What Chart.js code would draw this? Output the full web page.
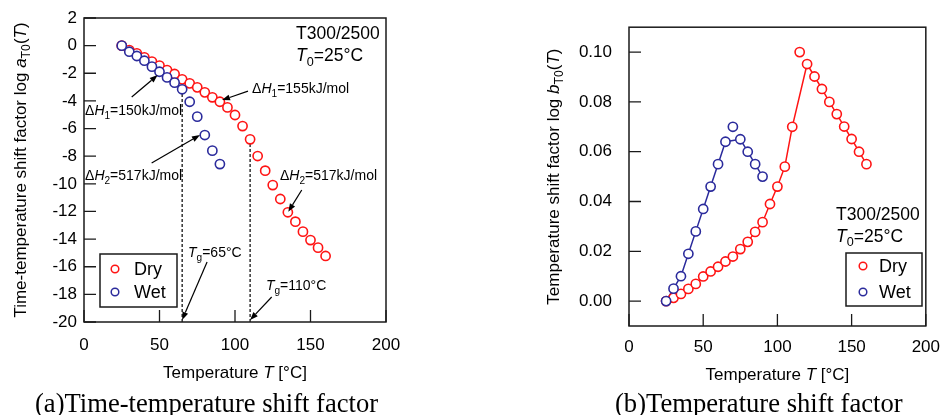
<!DOCTYPE html>
<html><head><meta charset="utf-8">
<script src="https://cdn.jsdelivr.net/npm/chart.js@4"></script>
<style>
body{margin:0;background:#fff;width:951px;height:415px;position:relative;overflow:hidden}
canvas{position:absolute;top:0}
#ca{left:0}
#cb{left:476px}
.cap{position:absolute;font-family:'Liberation Serif','Times New Roman',serif;font-size:26.6px;line-height:30px;color:#000;white-space:nowrap}
</style></head><body>
<canvas id="ca" width="470" height="390"></canvas>
<canvas id="cb" width="475" height="390"></canvas>
<div class="cap" style="left:35px;top:388px">(a)Time-temperature shift factor</div>
<div class="cap" style="left:615px;top:388px">(b)Temperature shift factor</div>
<script>
// ---------- data ----------
const temps = [25,30,35,40,45,50,55,60,65,70,75,80,85,90,95,100,105,110,115,120,125,130,135,140,145,150,155,160];
const dryLogA = [0,-0.32,-0.56,-0.85,-1.16,-1.45,-1.77,-2.05,-2.44,-2.73,-3.02,-3.38,-3.74,-4.06,-4.47,-5.02,-5.82,-6.78,-7.99,-9.05,-10.09,-11.1,-12.06,-12.74,-13.46,-14.07,-14.62,-15.22];
const wetTemps = [25,30,35,40,45,50,55,60,65,70,75,80,85,90];
const wetLogA = [0,-0.44,-0.75,-1.09,-1.52,-1.89,-2.3,-2.68,-3.16,-4.06,-5.14,-6.47,-7.6,-8.57];
const dryLogB = [0,0.0013,0.0029,0.0049,0.0069,0.0099,0.0119,0.0138,0.0159,0.0179,0.0209,0.0238,0.0278,0.0317,0.039,0.046,0.054,0.070,0.100,0.0952,0.0902,0.0852,0.080,0.0751,0.0701,0.0651,0.060,0.055];
const wetLogB = [0,0.005,0.010,0.019,0.028,0.037,0.046,0.055,0.064,0.070,0.065,0.060,0.055,0.050];
const tgDry = 110, tgWet = 65;
const xTicks = [0,50,100,150,200];
const yTicksA = [2,0,-2,-4,-6,-8,-10,-12,-14,-16,-18,-20];
const yTicksB = [0,0.02,0.04,0.06,0.08,0.10];

const RED = '#ff1414', BLUE = '#2b2b9c';
const FAM = "'Liberation Sans', Arial, sans-serif";
const PR = 4.6;

// ---------- helpers ----------
const pts = (xs, ys) => xs.map((x, i) => ({x, y: ys[i]}));
function rich(ctx, x, y, segs, size, align) {
  const f = s => `${s[1] && s[1].includes('i') ? 'italic ' : ''}${s[1] && (s[1].includes('sub') || s[1].includes('sup')) ? size * 0.72 : size}px ${FAM}`;
  let w = 0; const ws = [];
  segs.forEach(s => { ctx.font = f(s); const m = ctx.measureText(s[0]).width; ws.push(m); w += m; });
  let cx = align === 'right' ? x - w : align === 'center' ? x - w / 2 : x;
  ctx.textBaseline = 'alphabetic'; ctx.textAlign = 'left'; ctx.fillStyle = '#000';
  const base = y + size * 0.36;
  segs.forEach((s, k) => {
    ctx.font = f(s);
    const st = s[1] || '';
    const dy = st.includes('sub') ? size * 0.25 : st.includes('sup') ? -size * 0.42 : 0;
    ctx.fillText(s[0], cx, base + dy); cx += ws[k];
  });
}
function arrow(ctx, x1, y1, x2, y2) {
  ctx.save(); ctx.strokeStyle = '#000'; ctx.fillStyle = '#000'; ctx.lineWidth = 1.2;
  const a = Math.atan2(y2 - y1, x2 - x1), L = 8, W = 3;
  const bx = x2 - L * Math.cos(a), by = y2 - L * Math.sin(a);
  ctx.beginPath(); ctx.moveTo(x1, y1); ctx.lineTo(bx, by); ctx.stroke();
  ctx.beginPath(); ctx.moveTo(x2, y2);
  ctx.lineTo(bx + W * Math.sin(a), by - W * Math.cos(a));
  ctx.lineTo(bx - W * Math.sin(a), by + W * Math.cos(a));
  ctx.closePath(); ctx.fill(); ctx.restore();
}
function frameAndTicks(chart, tickLen) {
  const {ctx, chartArea: a, scales: {x, y}} = chart;
  ctx.save(); ctx.strokeStyle = '#1a1a1a'; ctx.lineWidth = 1.5;
  ctx.strokeRect(a.left, a.top, a.right - a.left, a.bottom - a.top);
  ctx.lineWidth = 1.3; ctx.beginPath();
  x.ticks.forEach(t => { const p = x.getPixelForValue(t.value); ctx.moveTo(p, a.bottom); ctx.lineTo(p, a.bottom - tickLen); });
  y.ticks.forEach(t => { const p = y.getPixelForValue(t.value); ctx.moveTo(a.left, p); ctx.lineTo(a.left + tickLen, p); });
  ctx.stroke(); ctx.restore();
}
function legendBox(ctx, x0, y0, w, h, items) {
  ctx.save(); ctx.strokeStyle = '#1a1a1a'; ctx.lineWidth = 1.5; ctx.strokeRect(x0, y0, w, h);
  items.forEach(it => {
    ctx.beginPath(); ctx.arc(it.mx, it.my, 3.8, 0, Math.PI * 2); ctx.strokeStyle = it.c; ctx.lineWidth = 1.5; ctx.stroke();
    ctx.fillStyle = '#000'; ctx.font = `18px ${FAM}`; ctx.textBaseline = 'middle'; ctx.textAlign = 'left';
    ctx.fillText(it.t, it.tx, it.my + 1);
  });
  ctx.restore();
}
const tickFont = {family: FAM, size: 17};
function xScale(pad, h) {
  return {type: 'linear', min: 0, max: 200,
    afterBuildTicks: s => { s.ticks = xTicks.map(v => ({value: v})); },
    afterFit: s => { s.height = h; },
    grid: {display: false, drawTicks: false}, border: {display: false},
    ticks: {font: tickFont, color: '#000', padding: pad, autoSkip: false, maxRotation: 0}};
}
const ptStyle = c => ({borderColor: c, backgroundColor: '#fff', pointBackgroundColor: '#fff', pointBorderColor: c,
  pointRadius: PR, pointBorderWidth: 1.6, pointHoverRadius: PR, showLine: false});

// ---------- chart (a) ----------
const plugA = {
  id: 'plugA',
  beforeDatasetsDraw(chart) {
    const {ctx, scales: {x, y}} = chart;
    ctx.save(); ctx.strokeStyle = '#000'; ctx.lineWidth = 1.2; ctx.setLineDash([3, 2]);
    [[tgWet, wetLogA[wetTemps.indexOf(tgWet)]], [tgDry, dryLogA[temps.indexOf(tgDry)]]].forEach(([t, v]) => {
      const px = x.getPixelForValue(t);
      ctx.beginPath(); ctx.moveTo(px, y.getPixelForValue(v) + PR); ctx.lineTo(px, y.getPixelForValue(-20)); ctx.stroke();
    });
    ctx.restore();
  },
  afterDraw(chart) {
    const {ctx, chartArea: a, scales: {x, y}} = chart;
    frameAndTicks(chart, 12);
    const X = v => x.getPixelForValue(v), Y = v => y.getPixelForValue(v);
    rich(ctx, X(140.4), Y(0.91), [['T300/2500']], 17.5, 'left');
    rich(ctx, X(140.4), Y(-0.68), [['T', 'i'], ['0', 'sub'], ['=25°C']], 17.5, 'left');
    const dH = (n, val) => [['Δ'], ['H', 'i'], [n, 'sub'], ['=' + val + 'kJ/mol']];
    rich(ctx, X(111.3), Y(-3.07), dH('1', '155'), 14, 'left');
    arrow(ctx, X(108.6), Y(-3.29), X(91.4), Y(-3.94));
    rich(ctx, X(0.7), Y(-4.67), dH('1', '150'), 14, 'left');
    arrow(ctx, X(31.6), Y(-3.72), X(48.8), Y(-2.13));
    rich(ctx, X(0.7), Y(-9.36), dH('2', '517'), 14, 'left');
    arrow(ctx, X(44.8), Y(-8.5), X(76.8), Y(-6.47));
    rich(ctx, X(129.8), Y(-9.36), dH('2', '517'), 14, 'left');
    arrow(ctx, X(144.2), Y(-10.45), X(135.3), Y(-12.02));
    rich(ctx, X(68.9), Y(-14.94), [['T', 'i'], ['g', 'sub'], ['=65°C']], 14, 'left');
    arrow(ctx, X(81.5), Y(-15.66), X(tgWet), Y(-19.85));
    rich(ctx, X(120.5), Y(-17.32), [['T', 'i'], ['g', 'sub'], ['=110°C']], 14, 'left');
    arrow(ctx, X(124.3), Y(-18.19), X(tgDry), Y(-19.85));
    legendBox(ctx, 100, 254, 77, 53, [
      {c: RED, mx: 115, my: 269, tx: 134, t: 'Dry'},
      {c: BLUE, mx: 115, my: 292, tx: 134, t: 'Wet'}]);
    rich(ctx, (a.left + a.right) / 2, 372, [['Temperature '], ['T', 'i'], [' [°C]']], 17, 'center');
    ctx.save(); ctx.translate(20, (a.top + a.bottom) / 2); ctx.rotate(-Math.PI / 2);
    rich(ctx, 0, 0, [['Time-temperature shift factor log '], ['a', 'i'], ['T0', 'sub'], ['('], ['T', 'i'], [')']], 17, 'center');
    ctx.restore();
  }
};
new Chart(document.getElementById('ca'), {
  type: 'scatter',
  data: {datasets: [
    {label: 'Wet', data: pts(wetTemps, wetLogA), ...ptStyle(BLUE)},
    {label: 'Dry', data: pts(temps, dryLogA), ...ptStyle(RED)}
  ]},
  options: {
    responsive: false, animation: false, devicePixelRatio: 1,
    layout: {padding: {top: 18, right: 84, left: 0, bottom: 0}},
    plugins: {legend: {display: false}, tooltip: {enabled: false}},
    scales: {
      x: xScale(13, 68),
      y: {type: 'linear', min: -20, max: 2,
        afterBuildTicks: s => { s.ticks = yTicksA.map(v => ({value: v})); },
        afterFit: s => { s.width = 84; },
        grid: {display: false, drawTicks: false}, border: {display: false},
        ticks: {font: tickFont, color: '#000', padding: 7, autoSkip: false}}
    }
  },
  plugins: [plugA]
});

// ---------- chart (b) ----------
const peakDry = dryLogB.indexOf(Math.max(...dryLogB));
const peakWet = wetLogB.indexOf(Math.max(...wetLogB));
const dryLineB = dryLogB.map((v, i) => i === peakDry ? null : v);
const wetLineB = wetLogB.map((v, i) => i === peakWet ? null : v);
const plugB = {
  id: 'plugB',
  afterDraw(chart) {
    const {ctx, chartArea: a, scales: {x, y}} = chart;
    frameAndTicks(chart, 12);
    const X = v => x.getPixelForValue(v), Y = v => y.getPixelForValue(v);
    rich(ctx, X(139.5), Y(0.0351), [['T300/2500']], 17.5, 'left');
    rich(ctx, X(139.5), Y(0.0263), [['T', 'i'], ['0', 'sub'], ['=25°C']], 17.5, 'left');
    legendBox(ctx, 846 - 476, 253, 76, 53, [
      {c: RED, mx: 863 - 476, my: 266, tx: 879 - 476, t: 'Dry'},
      {c: BLUE, mx: 863 - 476, my: 292, tx: 879 - 476, t: 'Wet'}]);
    rich(ctx, (a.left + a.right) / 2, 374, [['Temperature '], ['T', 'i'], [' [°C]']], 17, 'center');
    ctx.save(); ctx.translate(77, (a.top + a.bottom) / 2); ctx.rotate(-Math.PI / 2);
    rich(ctx, 0, 0, [['Temperature shift factor log '], ['b', 'i'], ['T0', 'sub'], ['('], ['T', 'i'], [')']], 17, 'center');
    ctx.restore();
  }
};
const lineStyle = c => ({borderColor: c, borderWidth: 1.5, pointRadius: 0, showLine: true, spanGaps: true, fill: false});
new Chart(document.getElementById('cb'), {
  type: 'scatter',
  data: {datasets: [
    {label: 'Wet', data: pts(wetTemps, wetLogB), ...ptStyle(BLUE)},
    {label: 'Dry', data: pts(temps, dryLogB), ...ptStyle(RED)},
    {label: 'Wet line', data: pts(wetTemps, wetLineB), ...lineStyle(BLUE)},
    {label: 'Dry line', data: pts(temps, dryLineB), ...lineStyle(RED)}
  ]},
  options: {
    responsive: false, animation: false, devicePixelRatio: 1,
    layout: {padding: {top: 22, right: 17, left: 0, bottom: 0}},
    plugins: {legend: {display: false}, tooltip: {enabled: false}},
    scales: {
      x: xScale(11, 64),
      y: {type: 'linear', min: -0.01, max: 0.11,
        afterBuildTicks: s => { s.ticks = yTicksB.map(v => ({value: v})); },
        afterFit: s => { s.width = 153; },
        grid: {display: false, drawTicks: false}, border: {display: false},
        ticks: {font: tickFont, color: '#000', padding: 17, autoSkip: false, callback: v => Number(v).toFixed(2)}}
    }
  },
  plugins: [plugB]
});
</script>
</body></html>
